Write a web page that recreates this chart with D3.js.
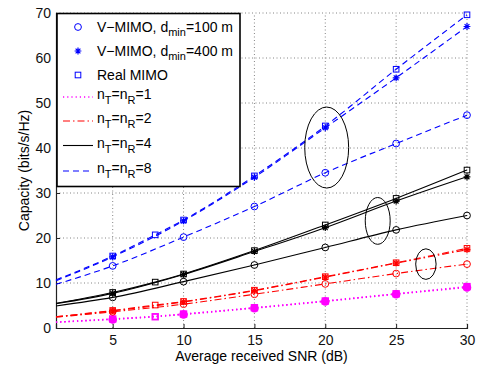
<!DOCTYPE html>
<html>
<head>
<meta charset="utf-8">
<script src="https://cdn.jsdelivr.net/npm/d3@7"></script>
<style>
  body { margin: 0; background: #fff; }
  text { font-family: "Liberation Sans", Arial, sans-serif; }
</style>
</head>
<body>
<svg id="chart" width="482" height="369"></svg>
<script>
// x samples
var snrV = [1, 5, 10, 15, 20, 25, 30];
var snrReal = [1, 5, 8, 10, 15, 20, 25, 30];

// n = 1
var v100_n1 = [1.3, 1.9, 3.0, 4.4, 5.9, 7.5, 9.0];
var v400_n1 = [1.3, 2.0, 3.1, 4.5, 6.0, 7.6, 9.1];
var real_n1 = [1.3, 2.0, 2.5, 3.1, 4.5, 6.0, 7.6, 9.2];
// n = 2
var v100_n2 = [2.4, 3.6, 5.3, 7.5, 9.8, 12.1, 14.2];
var v400_n2 = [2.5, 3.8, 5.8, 8.3, 11.3, 14.4, 17.4];
var real_n2 = [2.5, 3.9, 5.1, 5.9, 8.4, 11.4, 14.5, 17.7];
// n = 4
var v100_n4 = [4.9, 6.8, 10.3, 14.0, 17.9, 21.8, 25.0];
var v400_n4 = [5.4, 7.7, 11.9, 17.0, 22.3, 28.2, 33.6];
var real_n4 = [5.5, 7.9, 10.2, 12.0, 17.2, 22.9, 28.8, 35.1];
// n = 8
var v100_n8 = [9.7, 13.8, 20.2, 27.0, 34.5, 41.0, 47.3];
var v400_n8 = [10.5, 15.8, 23.8, 33.5, 44.5, 55.6, 67.0];
var real_n8 = [10.7, 16.0, 20.7, 24.0, 33.8, 44.9, 57.5, 69.6];

var xTicks = [5, 10, 15, 20, 25, 30];
var yTicks = [0, 10, 20, 30, 40, 50, 60, 70];

// ellipses: [center snr, center capacity, half-width snr, half-height capacity]
var ellipses = [[20.1, 40.1, 1.55, 9.0], [23.7, 23.8, 0.88, 5.2], [27.1, 14.2, 0.72, 3.4]];

var groups = [
  { n: 1, color: "#ff00ff", dash: "1.2,3", v100: v100_n1, v400: v400_n1, real: real_n1 },
  { n: 2, color: "#ff0000", dash: "7,3,1.5,3", v100: v100_n2, v400: v400_n2, real: real_n2 },
  { n: 4, color: "#000000", dash: null, v100: v100_n4, v400: v400_n4, real: real_n4 },
  { n: 8, color: "#0000ff", dash: "6,4", v100: v100_n8, v400: v400_n8, real: real_n8 }
];

(function() {
var svg = d3.select("#chart");
var pLeft = 56, pRight = 467, pTop = 13, pBottom = 328;

var x = d3.scaleLinear().domain([1, 30]).range([pLeft, pRight]);
var y = d3.scaleLinear().domain([0, 70]).range([pBottom, pTop]);

// grid
var grid = svg.append("g");
grid.selectAll(".gx").data(xTicks).enter().append("line")
  .attr("x1", function(d) { return x(d); }).attr("x2", function(d) { return x(d); })
  .attr("y1", pBottom).attr("y2", pTop)
  .attr("stroke", "#666").attr("stroke-width", 0.8).attr("stroke-dasharray", "1,2.5");
grid.selectAll(".gy").data(yTicks.slice(1)).enter().append("line")
  .attr("x1", pLeft).attr("x2", pRight)
  .attr("y1", function(d) { return y(d); }).attr("y2", function(d) { return y(d); })
  .attr("stroke", "#666").attr("stroke-width", 0.8).attr("stroke-dasharray", "1,2.5");

// axes
var xAxis = svg.append("g").attr("transform", "translate(0," + pBottom + ")")
  .call(d3.axisBottom(x).tickValues(xTicks).tickSize(-4).tickPadding(7));
var yAxis = svg.append("g").attr("transform", "translate(" + pLeft + ",0)")
  .call(d3.axisLeft(y).tickValues(yTicks).tickSize(-4).tickPadding(5));
[xAxis, yAxis].forEach(function(a) {
  a.select(".domain").attr("stroke", "#222").attr("stroke-width", 1.2);
  a.selectAll(".tick line").attr("stroke", "#222");
  a.selectAll("text").attr("font-size", 14).attr("fill", "#111")
    .attr("font-family", "Liberation Sans, Arial, sans-serif");
});

svg.append("text").attr("x", (pLeft + pRight) / 2).attr("y", 361)
  .attr("text-anchor", "middle").attr("font-size", 14).text("Average received SNR (dB)");
svg.append("text").attr("transform", "translate(29," + ((pTop + pBottom) / 2) + ") rotate(-90)")
  .attr("text-anchor", "middle").attr("font-size", 14).text("Capacity (bits/s/Hz)");

var line = d3.line().x(function(d) { return x(d[0]); }).y(function(d) { return y(d[1]); })
  .curve(d3.curveMonotoneX);

function drawMarker(g, kind, px, py, color, w) {
  w = w || 1;
  if (kind === "circle") {
    g.append("circle").attr("cx", px).attr("cy", py).attr("r", 3.4)
      .attr("fill", "none").attr("stroke", color).attr("stroke-width", w);
  } else if (kind === "square") {
    g.append("rect").attr("x", px - 2.8).attr("y", py - 2.8).attr("width", 5.6).attr("height", 5.6)
      .attr("fill", "none").attr("stroke", color).attr("stroke-width", w);
  } else {
    var r = 3.4, s = r * 0.707;
    g.append("path")
      .attr("d", "M" + (px - r) + "," + py + "h" + (2 * r) + "M" + px + "," + (py - r) + "v" + (2 * r) +
        "M" + (px - s) + "," + (py - s) + "l" + (2 * s) + "," + (2 * s) +
        "M" + (px - s) + "," + (py + s) + "l" + (2 * s) + "," + (-2 * s))
      .attr("stroke", color).attr("stroke-width", w + 0.2).attr("fill", "none");
  }
}

var plot = svg.append("g");
groups.forEach(function(gr) {
  var sets = [
    { xs: snrV, ys: gr.v100, kind: "circle" },
    { xs: snrV, ys: gr.v400, kind: "star" },
    { xs: snrReal, ys: gr.real, kind: "square" }
  ];
  sets.forEach(function(s) {
    var pts = s.xs.map(function(v, i) { return [v, s.ys[i]]; });
    plot.append("path").attr("d", line(pts)).attr("fill", "none")
      .attr("stroke", gr.color).attr("stroke-width", gr.n === 1 ? 1.4 : 1.1)
      .attr("stroke-dasharray", gr.dash);
    pts.forEach(function(p) {
      if (p[0] === 1) return;
      drawMarker(plot, s.kind, x(p[0]), y(p[1]), gr.color, gr.n === 1 ? 1.8 : 1);
    });
  });
});

// ellipses
svg.selectAll(".ell").data(ellipses).enter().append("ellipse")
  .attr("cx", function(d) { return x(d[0]); })
  .attr("cy", function(d) { return y(d[1]); })
  .attr("rx", function(d) { return x(d[0] + d[2]) - x(d[0]); })
  .attr("ry", function(d) { return y(d[1] - d[3]) - y(d[1]); })
  .attr("fill", "none").attr("stroke", "#000").attr("stroke-width", 1);

// legend
var lg = svg.append("g");
lg.append("rect").attr("x", 57).attr("y", 13.5).attr("width", 183).attr("height", 173)
  .attr("fill", "#fff").attr("stroke", "#000").attr("stroke-width", 1.6);

var legendMarkers = [
  { kind: "circle", y: 27, label: ["V\u2212MIMO, d", "min", "=100 m"] },
  { kind: "star", y: 51, label: ["V\u2212MIMO, d", "min", "=400 m"] },
  { kind: "square", y: 75, label: ["Real MIMO"] }
];
legendMarkers.forEach(function(m) {
  drawMarker(lg, m.kind, 78, m.y, "#0000ff");
  var t = lg.append("text").attr("x", 97).attr("y", m.y + 5).attr("font-size", 14);
  t.append("tspan").text(m.label[0]);
  if (m.label.length > 1) {
    t.append("tspan").attr("dy", 4).attr("font-size", 11).text(m.label[1]);
    t.append("tspan").attr("dy", -4).text(m.label[2]);
  }
});

var legendLines = [97, 121, 145.5, 171];
groups.forEach(function(gr, i) {
  var ly = legendLines[i];
  lg.append("line").attr("x1", 63).attr("x2", 93).attr("y1", ly).attr("y2", ly)
    .attr("stroke", gr.color).attr("stroke-width", gr.n === 1 ? 1.4 : 1.1)
    .attr("stroke-dasharray", gr.dash);
  var t = lg.append("text").attr("x", 97).attr("y", ly + 2).attr("font-size", 14);
  t.append("tspan").text("n");
  t.append("tspan").attr("dy", 5).attr("font-size", 11).text("T");
  t.append("tspan").attr("dy", -5).text("=n");
  t.append("tspan").attr("dy", 5).attr("font-size", 11).text("R");
  t.append("tspan").attr("dy", -5).text("=" + gr.n);
});
})();
</script>
</body>
</html>
